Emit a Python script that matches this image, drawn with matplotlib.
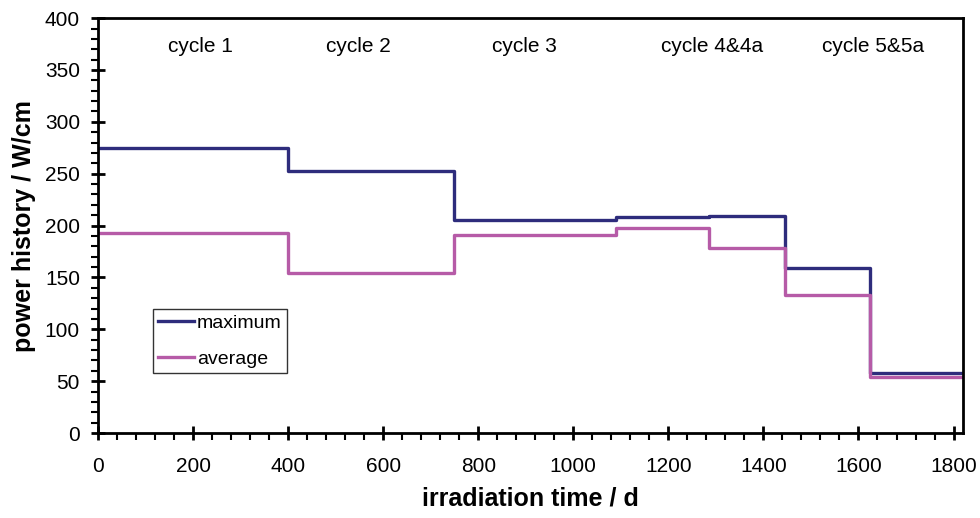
import numpy as np
import matplotlib.pyplot as plt
from matplotlib.ticker import MultipleLocator

plt.rcParams['font.family'] = ['Liberation Sans', 'DejaVu Sans']

# step boundaries (days) and power level held from each boundary onward
max_days = [0, 400, 750, 1090, 1285, 1445, 1625, 1820]
max_power = [275, 253, 205, 208, 209, 159, 58, 58]
avg_days = [0, 400, 750, 1090, 1285, 1445, 1625, 1820]
avg_power = [193, 154, 191, 198, 178, 133, 54, 54]

cycle_names = ['cycle 1', 'cycle 2', 'cycle 3', 'cycle 4&4a', 'cycle 5&5a']
cycle_pos = [216, 547, 898, 1291, 1630]

fig = plt.figure(figsize=(9.8, 5.18), dpi=100)
ax = fig.add_axes([0.1, 0.164, 0.8827, 0.801])

ax.step(max_days, max_power, where='post', color='#2E2C7C', lw=2.4, label='maximum')
ax.step(avg_days, avg_power, where='post', color='#B65BA7', lw=2.4, label='average')

for name, xpos in zip(cycle_names, cycle_pos):
    ax.text(xpos, 373, name, ha='center', va='center', fontsize=15)

ax.set_xlim(0, 1820)
ax.set_ylim(0, 400)
ax.xaxis.set_major_locator(MultipleLocator(200))
ax.xaxis.set_minor_locator(MultipleLocator(40))
ax.yaxis.set_major_locator(MultipleLocator(50))
ax.yaxis.set_minor_locator(MultipleLocator(10))
ax.tick_params(which='major', direction='inout', length=10, width=2, labelsize=15)
ax.tick_params(axis='x', which='major', pad=12)
ax.tick_params(axis='y', which='major', pad=8)
ax.tick_params(which='minor', direction='out', length=5, width=1.5)
for s in ax.spines.values():
    s.set_linewidth(2)

ax.set_xlabel('irradiation time / d', fontsize=18, fontweight='bold', labelpad=8)
ax.set_ylabel('power history / W/cm', fontsize=18, fontweight='bold', labelpad=6)

leg = ax.legend(loc='lower left', bbox_to_anchor=(0.064, 0.145), fontsize=14,
                frameon=True, fancybox=False, handlelength=1.85, handletextpad=0.15,
                borderpad=0.25, labelspacing=0.95, borderaxespad=0)
leg.get_frame().set_edgecolor('black')
leg.get_frame().set_linewidth(1)

fig.savefig('out.png', dpi=100)
